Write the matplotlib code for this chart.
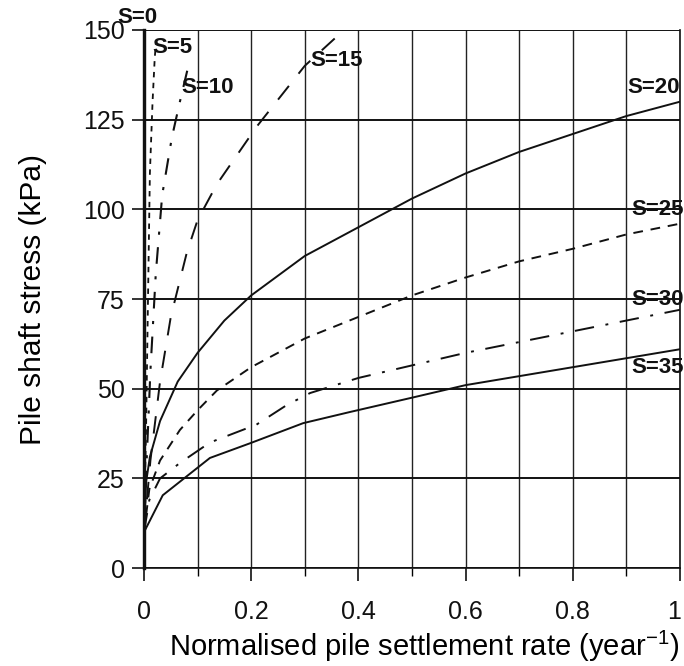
import matplotlib.pyplot as plt
import matplotlib.transforms as mtransforms
from matplotlib.ticker import MultipleLocator

plt.rcParams['font.family'] = ['Liberation Sans', 'DejaVu Sans']
plt.rcParams['mathtext.fontset'] = 'custom'
plt.rcParams['mathtext.rm'] = 'Liberation Sans'
plt.rcParams['mathtext.it'] = 'Liberation Sans'

# Curves of shaft stress vs settlement rate, one per S value
s0_x = [0.0, 0.0]
s0_y = [0, 150]

s5_x = [0.0, 0.004, 0.008, 0.011, 0.016, 0.020, 0.022]
s5_y = [10, 40, 80, 110, 130, 142, 146]

s10_x = [0.0, 0.005, 0.012, 0.022, 0.034, 0.043, 0.052, 0.067, 0.086]
s10_y = [10, 30, 55, 82, 104, 112, 120, 130, 142]

s15_x = [0.0, 0.012, 0.03, 0.05, 0.08, 0.10, 0.136, 0.21, 0.30, 0.366]
s15_y = [10, 30, 52, 70, 88, 97, 107, 123, 140, 149]

s20_x = [0.0, 0.004, 0.011, 0.03, 0.063, 0.10, 0.15, 0.2, 0.3, 0.4, 0.5, 0.6, 0.7, 0.8, 0.9, 1.0]
s20_y = [10, 24, 31, 41, 52, 60, 69, 76, 87, 95, 103, 110, 116, 121, 126, 130]

s25_x = [0.0, 0.01, 0.03, 0.067, 0.10, 0.136, 0.2, 0.3, 0.4, 0.5, 0.6, 0.7, 0.8, 0.9, 1.0]
s25_y = [10, 22, 30, 38.5, 44, 49.5, 56, 64, 70, 76, 81, 85.5, 89, 93, 96]

s30_x = [0.0, 0.01, 0.03, 0.067, 0.123, 0.21, 0.267, 0.31, 0.4, 0.5, 0.6, 0.7, 0.8, 0.9, 1.0]
s30_y = [10, 19, 25, 29.3, 35, 40, 45.5, 48.8, 53, 56.5, 60, 63, 66, 69, 72]

s35_x = [0.0, 0.035, 0.123, 0.198, 0.297, 0.384, 0.5, 0.6, 0.7, 0.8, 0.9, 1.0]
s35_y = [10, 20.3, 30.7, 34.8, 40.4, 43.5, 47.5, 51, 53.5, 56, 58.5, 61]

labels = ['S=0', 'S=5', 'S=10', 'S=15', 'S=20', 'S=25', 'S=30', 'S=35']
label_x = [-0.05, 0.015, 0.069, 0.31, 1.0, 1.007, 1.007, 1.007]
label_y = [153.5, 145, 134, 141.5, 134, 100, 75, 56]
label_ha = ['left', 'left', 'left', 'left', 'right', 'right', 'right', 'right']

xtick_vals = [0, 0.2, 0.4, 0.6, 0.8, 1.0]
xtick_text = ['0', '0.2', '0.4', '0.6', '0.8', '1']

fig = plt.figure(figsize=(6.84, 6.66), dpi=100)
ax = fig.add_axes([0.2105, 0.147, 0.7835, 0.808])

ax.set_xlim(0, 1)
ax.set_ylim(0, 150)
ax.set_xticks(xtick_vals)
ax.set_xticklabels(xtick_text)
ax.xaxis.set_minor_locator(MultipleLocator(0.1))
ax.yaxis.set_major_locator(MultipleLocator(25))

ax.grid(True, which='major', axis='y', color='#111111', lw=1.4)
ax.grid(True, which='both', axis='x', color='#222222', lw=1.0)
ax.set_axisbelow(True)

for sp in ax.spines.values():
    sp.set_color('#111111')
    sp.set_linewidth(1.2)
ax.spines['left'].set_linewidth(2.2)
ax.spines['top'].set_visible(False)

ax.tick_params(axis='both', which='major', direction='out', length=9, width=1.2,
               labelsize=18, colors='#111111', pad=5)
ax.tick_params(axis='x', which='major', pad=14)
ax.tick_params(axis='x', which='minor', direction='out', length=6, width=1.0)

# keep the last x tick label inside the figure
last = ax.get_xticklabels()[-1]
last.set_transform(last.get_transform() + mtransforms.ScaledTranslation(-4 / 72, 0, fig.dpi_scale_trans))

k = '#111111'
ax.plot(s0_x, s0_y, color=k, lw=2.4, clip_on=False)
ax.plot(s5_x, s5_y, color=k, lw=1.3, dashes=(3, 3))
ax.plot(s10_x, s10_y, color=k, lw=1.5, dashes=(8, 6, 1.5, 6))
ax.plot(s15_x, s15_y, color=k, lw=1.4, dashes=(9, 8))
ax.plot(s20_x, s20_y, color=k, lw=1.4)
ax.plot(s25_x, s25_y, color=k, lw=1.4, dashes=(5, 4))
ax.plot(s30_x, s30_y, color=k, lw=1.4, dashes=(10, 6, 1.5, 6))
ax.plot(s35_x, s35_y, color=k, lw=1.4)

for t, lx, ly, ha in zip(labels, label_x, label_y, label_ha):
    ax.text(lx, ly, t, fontsize=16, fontweight='bold', color=k,
            ha=ha, va='center', clip_on=False)

ax.set_xlabel('Normalised pile settlement rate (year$^{-1}$)', fontsize=21)
ax.xaxis.set_label_coords(0.522, -0.112)
ax.set_ylabel('Pile shaft stress (kPa)', fontsize=21.5, labelpad=26)

fig.savefig('out.png', dpi=100, facecolor='white')
